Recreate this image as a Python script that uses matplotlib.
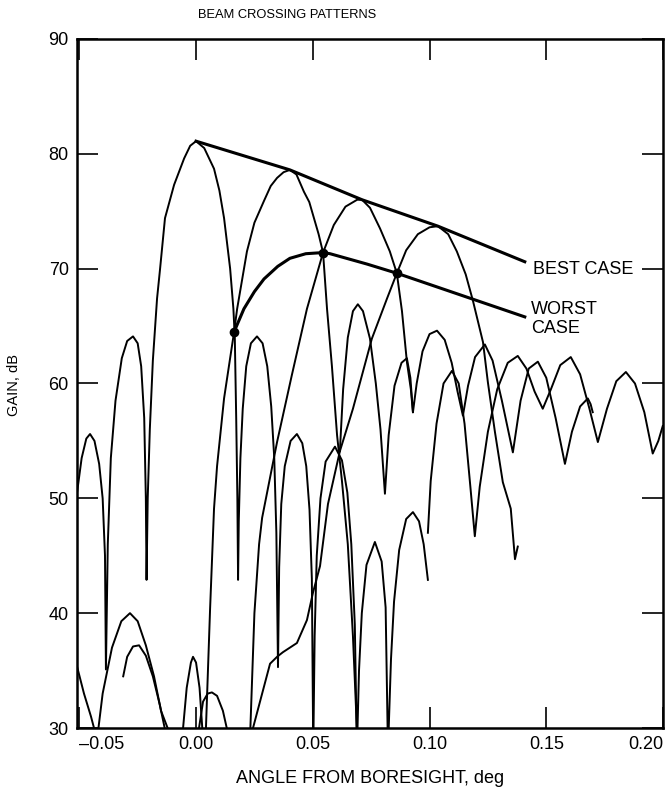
import numpy as np
import matplotlib.pyplot as plt

plt.rcParams['font.family'] = ['Liberation Sans', 'DejaVu Sans']

# Beam patterns (angle in deg, gain in dB)
beam_a_x = [-0.0509, -0.0490, -0.0470, -0.0454, -0.0435, -0.0415, -0.0400, -0.0390, -0.0386,
            -0.0378, -0.0365, -0.0345, -0.0318, -0.0295, -0.0270, -0.0250, -0.0235, -0.0222, -0.0215,
            -0.0212, -0.0207, -0.0198, -0.0185, -0.0167, -0.0154, -0.0133, -0.0094, -0.0051, -0.0025,
            0.0, 0.0035, 0.0077, 0.0100, 0.0120, 0.0146, 0.0160, 0.0166, 0.0172, 0.0177,
            0.0180, 0.0183, 0.0190, 0.0200, 0.0215, 0.0235, 0.0261, 0.0285, 0.0305, 0.0322,
            0.0335, 0.0344, 0.0351, 0.0356, 0.0365, 0.0380, 0.0405, 0.0432, 0.0455, 0.0472,
            0.0486, 0.0496, 0.0502, 0.0508, 0.0517, 0.0533, 0.0555, 0.0595, 0.0625, 0.0648,
            0.0665, 0.0680, 0.0689, 0.0698, 0.0710, 0.0730, 0.0766, 0.0795, 0.0812, 0.0822,
            0.0835, 0.0848, 0.0870, 0.0900, 0.0929, 0.0955, 0.0975, 0.0993]
beam_a_y = [50.6, 53.5, 55.2, 55.6, 55.0, 53.0, 50.0, 45.0, 35.1,
            46.0, 53.5, 58.5, 62.2, 63.7, 64.1, 63.5, 61.5, 57.0, 50.0,
            42.9, 50.0, 56.0, 62.0, 67.4, 70.0, 74.4, 77.3, 79.6, 80.7,
            81.1, 80.5, 78.7, 76.8, 74.4, 70.0, 66.5, 64.0, 57.0, 50.0,
            42.9, 48.0, 53.5, 57.8, 61.5, 63.5, 64.1, 63.5, 61.5, 58.0,
            53.5, 47.0, 35.3, 44.0, 49.5, 52.8, 55.0, 55.6, 54.8, 52.8,
            49.0, 43.0, 28.0, 38.0, 45.0, 50.0, 53.2, 54.5, 53.3, 50.5,
            46.0, 39.0, 28.0, 35.0, 40.0, 44.2, 46.2, 44.5, 40.5, 28.0,
            36.0, 41.0, 45.5, 48.2, 48.8, 48.0, 46.0, 42.9]

beam_b_x = [0.0039, 0.0060, 0.0077, 0.0090, 0.0120, 0.0163, 0.0176, 0.0218, 0.0250, 0.0291,
            0.0320, 0.0347, 0.0375, 0.0402, 0.0430, 0.0462, 0.0485, 0.0505, 0.0525, 0.0544,
            0.0561, 0.0582, 0.0604, 0.0625, 0.0650, 0.0672, 0.0693]
beam_b_y = [28.0, 40.3, 49.1, 52.8, 58.7, 64.5, 66.5, 71.5, 74.0, 75.9,
            77.2, 77.9, 78.4, 78.6, 78.2, 76.7, 75.8, 74.4, 73.0, 71.4,
            66.5, 61.5, 55.5, 51.5, 46.0, 38.0, 28.0]

beam_c_x = [0.0231, 0.0250, 0.0270, 0.0283, 0.0347, 0.0410, 0.0475, 0.0544, 0.0590, 0.0640,
            0.0690, 0.0711, 0.0745, 0.0788, 0.0830, 0.0860, 0.0882, 0.0903, 0.0920, 0.0929]
beam_c_y = [29.0, 40.0, 46.0, 48.3, 54.9, 60.7, 66.5, 71.4, 73.8, 75.4,
            76.0, 76.0, 75.3, 73.5, 71.5, 69.6, 66.3, 61.9, 59.5, 57.5]

beam_d_x = [0.0231, 0.0317, 0.0347, 0.0372, 0.0432, 0.0475, 0.0501, 0.0531, 0.0565, 0.0616,
            0.0672, 0.0753, 0.0818, 0.0860, 0.0900, 0.0950, 0.1000, 0.1036, 0.1080, 0.1117,
            0.1155, 0.1186, 0.1229, 0.1250, 0.1280, 0.1314, 0.1348, 0.1366, 0.1378]
beam_d_y = [29.0, 35.6, 36.2, 36.6, 37.4, 39.4, 41.8, 44.1, 49.5, 54.1,
            57.8, 63.9, 67.4, 69.6, 71.6, 73.0, 73.6, 73.7, 73.0, 71.5,
            69.5, 67.2, 63.6, 60.1, 55.8, 51.4, 49.1, 44.7, 45.8]

# sidelobe traces to the right of the beams
lobe_p_x = [0.0616, 0.0630, 0.0650, 0.0672, 0.0693, 0.0715, 0.0745, 0.0770, 0.0790, 0.0809,
            0.0825, 0.0850, 0.0880, 0.0903, 0.0918, 0.0929, 0.0945, 0.0970, 0.1000, 0.1032,
            0.1065, 0.1095, 0.1120, 0.1143, 0.1165, 0.1195, 0.1237, 0.1270, 0.1310, 0.1357,
            0.1390, 0.1425, 0.1464, 0.1500, 0.1540, 0.1580, 0.1610, 0.1645, 0.1678, 0.1690,
            0.1699]
lobe_p_y = [54.1, 59.5, 64.0, 66.3, 66.9, 66.3, 63.9, 60.0, 56.0, 50.4,
            55.5, 59.8, 61.8, 62.2, 60.5, 57.5, 60.0, 62.8, 64.3, 64.6,
            63.8, 61.8, 59.3, 57.2, 59.8, 62.3, 63.4, 62.0, 58.5, 54.0,
            58.5, 61.3, 61.9, 60.5, 57.0, 53.0, 55.8, 58.0, 58.7, 58.2,
            57.5]

lobe_q_x = [0.0993, 0.1005, 0.1030, 0.1060, 0.1096, 0.1125, 0.1150, 0.1175, 0.1194, 0.1215,
            0.1250, 0.1290, 0.1335, 0.1378, 0.1415, 0.1450, 0.1485, 0.1520, 0.1560, 0.1605,
            0.1645, 0.1685, 0.1721, 0.1760, 0.1800, 0.1841, 0.1880, 0.1920, 0.1956, 0.1980,
            0.1999]
lobe_q_y = [47.0, 51.5, 56.5, 60.0, 61.1, 60.0, 56.5, 51.0, 46.7, 51.0,
            55.8, 59.5, 61.8, 62.4, 61.3, 59.3, 57.8, 59.5, 61.6, 62.3,
            60.8, 57.8, 54.9, 57.8, 60.2, 61.0, 60.0, 57.5, 53.9, 55.0,
            56.3]

# low sidelobes at the lower left
low_1_x = [-0.0509, -0.0480, -0.0450, -0.0424, -0.0400, -0.0360, -0.0320, -0.0283, -0.0250, -0.0215,
           -0.0180, -0.0150, -0.0103]
low_1_y = [35.3, 33.0, 31.0, 29.0, 33.0, 37.0, 39.3, 40.0, 39.3, 37.2,
           34.5, 31.5, 29.0]
low_2_x = [-0.0312, -0.0295, -0.0270, -0.0244, -0.0215, -0.0185, -0.0155, -0.0124]
low_2_y = [34.5, 36.2, 37.1, 37.2, 36.3, 34.5, 32.0, 29.0]
low_3_x = [-0.0060, -0.0040, -0.0022, -0.0013, 0.0000, 0.0015, 0.0030]
low_3_y = [29.0, 33.5, 35.7, 36.2, 35.7, 33.5, 29.0]
low_4_x = [0.0009, 0.0030, 0.0050, 0.0068, 0.0090, 0.0115, 0.0137]
low_4_y = [29.5, 32.3, 33.0, 33.1, 32.8, 31.5, 29.5]

# envelopes
best_x = [0.0, 0.0402, 0.0711, 0.1036, 0.1408]
best_y = [81.1, 78.6, 76.0, 73.7, 70.6]
worst_x = [0.0163, 0.0205, 0.0250, 0.0291, 0.0350, 0.0402, 0.0470, 0.0544, 0.0574, 0.0732, 0.0860, 0.1408]
worst_y = [64.5, 66.5, 68.0, 69.1, 70.2, 70.9, 71.3, 71.4, 71.3, 70.4, 69.6, 65.8]
dots_x = [0.0163, 0.0544, 0.0860]
dots_y = [64.5, 71.4, 69.6]

fig = plt.figure(figsize=(6.67, 7.92), dpi=100)
ax = fig.add_axes([0.1154, 0.0808, 0.8786, 0.870])

thin = dict(color='black', lw=1.4, solid_joinstyle='round')
for xs, ys in [(beam_a_x, beam_a_y), (beam_b_x, beam_b_y), (beam_c_x, beam_c_y),
               (beam_d_x, beam_d_y), (lobe_p_x, lobe_p_y), (lobe_q_x, lobe_q_y),
               (low_1_x, low_1_y), (low_2_x, low_2_y), (low_3_x, low_3_y), (low_4_x, low_4_y)]:
    ax.plot(xs, ys, **thin)

ax.plot(best_x, best_y, color='black', lw=2.2)
ax.plot(worst_x, worst_y, color='black', lw=2.2)
ax.plot(dots_x, dots_y, 'o', color='black', ms=6)

ax.text(0.1443, 69.9, 'BEST CASE', fontsize=13, va='center')
ax.text(0.1434, 65.6, 'WORST\nCASE', fontsize=13, va='center', linespacing=1.2)

ax.set_xlim(-0.051, 0.2)
ax.set_ylim(30, 90)
ax.set_xticks([-0.05, 0.0, 0.05, 0.10, 0.15, 0.20])
ax.set_xticklabels(['\u20130.05', '0.00', '0.05', '0.10', '0.15', '0.20'])
ax.set_yticks([30, 40, 50, 60, 70, 80, 90])
ax.tick_params(direction='in', length=15, width=1.2, top=True, right=True, labelsize=13, pad=6)
labels = ax.get_xticklabels()
labels[0].set_ha('left')
labels[-1].set_ha('right')
for s in ax.spines.values():
    s.set_linewidth(1.8)

ax.set_xlabel('ANGLE FROM BORESIGHT, deg', fontsize=13, labelpad=12)
fig.text(0.021, 0.514, 'GAIN, dB', fontsize=10.5, rotation=90, ha='center', va='center')
fig.text(0.43, 0.981, 'BEAM CROSSING PATTERNS', fontsize=9.3, ha='center', va='center')

plt.savefig('out.png', dpi=100)
